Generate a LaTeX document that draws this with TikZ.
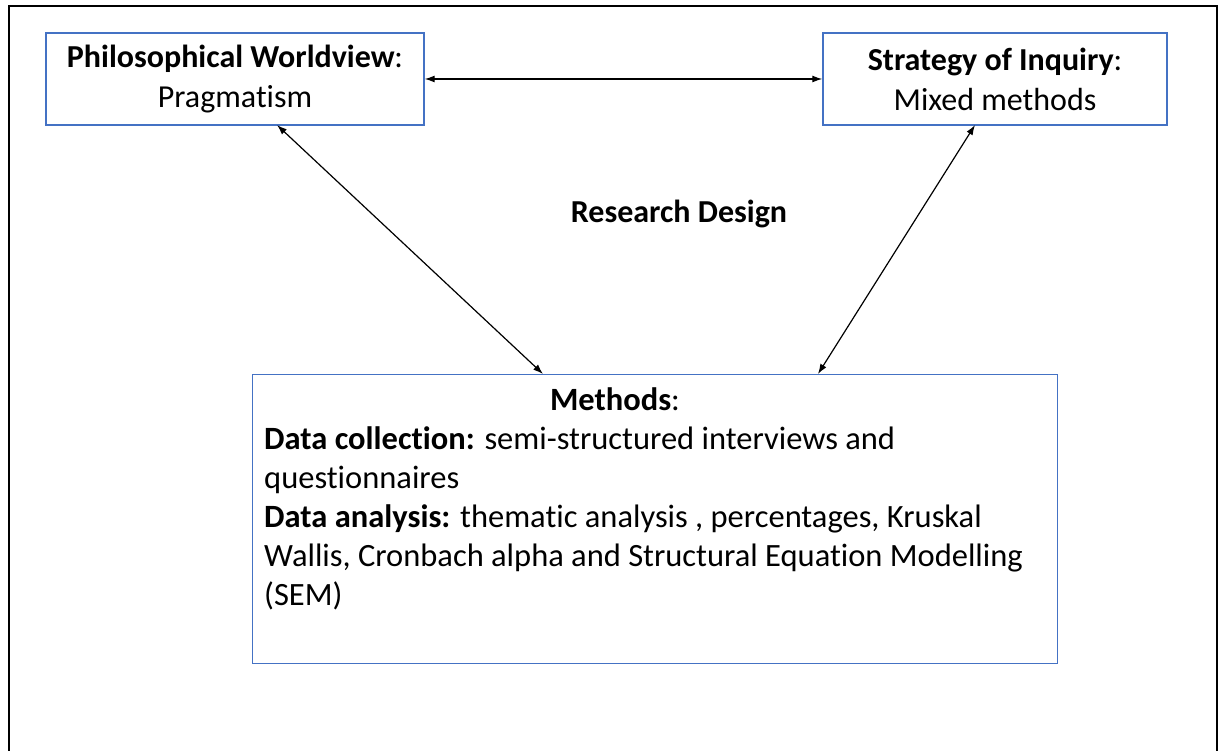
\documentclass[tikz,border=0pt]{standalone}
\usepackage{fontspec}
\setmainfont{Carlito}[Ligatures=NoCommon]
\usetikzlibrary{arrows.meta}
\definecolor{boxblue}{HTML}{4472C4}
\tikzset{
  x=1pt, y=-1pt,
  topbox/.style={draw=boxblue, line width=1.4pt, align=center, inner sep=0pt,
    font=\fontsize{32}{40}\selectfont},
  methodsbox/.style={draw=boxblue, line width=1.4pt, inner sep=0pt, anchor=north west},
  bodytext/.style={inner sep=0pt, font=\fontsize{32.5}{39}\selectfont},
  link/.style={line width=1.2pt, {Latex[length=10pt,width=7pt]}-{Latex[length=10pt,width=7pt]}},
}
\begin{document}
\begin{tikzpicture}
\useasboundingbox (0,0) rectangle (1224,751);
\begin{scope}
  \clip (0,0) rectangle (1224,751);
  \draw[line width=2.2pt] (9,6) rectangle (1217,770);
\end{scope}

% upper boxes
\node[topbox, minimum width=378pt, minimum height=92pt] (world) at (235,79)
  {\textbf{Philosophical Worldview}:\\Pragmatism};
\node[topbox, minimum width=344pt, minimum height=92pt] (strat) at (995,79)
  {\textbf{Strategy of Inquiry}:\\Mixed methods};

% methods box and its text
\node[methodsbox, minimum width=805pt, minimum height=289pt] (meth) at (252,374) {};
\node[bodytext, anchor=base] (methtitle) at (615,410) {\textbf{Methods}:};
\node[bodytext, anchor=north west, align=left] (methtext) at (264,426)
  {\textbf{Data collection:} semi-structured interviews and\\
   questionnaires\\
   \textbf{Data analysis:} thematic analysis , percentages, Kruskal\\
   Wallis, Cronbach alpha and Structural Equation Modelling\\
   (SEM)};

\node[bodytext, font=\fontsize{32}{38}\selectfont\bfseries, anchor=base] (title) at (679,223) {Research Design};

% connectors
\draw[link] (world.east) -- (strat.west);
\coordinate (wb) at (277,125);
\coordinate (mb1) at (543,374);
\coordinate (sb) at (975,125);
\coordinate (mb2) at (818,374);
\draw[link] (wb) -- (mb1);
\draw[link] (sb) -- (mb2);
\end{tikzpicture}
\end{document}
